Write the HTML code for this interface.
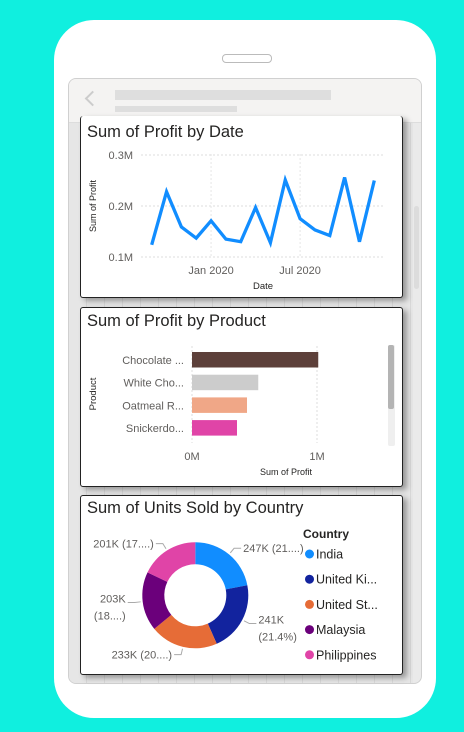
<!DOCTYPE html>
<html><head><meta charset="utf-8"><style>
body{margin:0;width:464px;height:732px;background:#10EFDF;position:relative;overflow:hidden;font-family:"Liberation Sans",sans-serif}
.abs{position:absolute}
.card{position:absolute;left:80px;width:321px;background:#fff;border:1px solid #222;border-radius:3px;box-shadow:4px 3px 6px rgba(0,0,0,.35)}
.title{position:absolute;left:6px;font-size:16.5px;color:#252423}
</style></head><body>
<div class="abs" style="left:54px;top:20px;width:382px;height:698px;background:#fff;border-radius:40px"></div>
<div class="abs" style="left:222px;top:54px;width:48px;height:7px;border:1px solid #bbb;border-radius:4px"></div>
<div class="abs" style="left:68px;top:78px;width:352px;height:604px;border:1px solid #d0d0d0;border-radius:8px;background:#eaeaea;overflow:hidden">
 <div class="abs" style="left:0;top:44px;width:344px;height:560px;background:repeating-linear-gradient(90deg,#e6e6e6 0,#e6e6e6 17px,#d8d8d8 17px,#d8d8d8 18px)"></div>
 <div class="abs" style="left:0;top:0;width:352px;height:43px;background:#f4f3f2;border-bottom:1px solid #ddd">
  <div class="abs" style="left:18px;top:14px;width:9px;height:9px;border-left:2px solid #ccc;border-bottom:2px solid #ccc;transform:rotate(45deg)"></div>
  <div class="abs" style="left:46px;top:11px;width:216px;height:10px;background:#dedede"></div>
  <div class="abs" style="left:46px;top:27px;width:122px;height:6px;background:#dedede"></div>
 </div>
 <div class="abs" style="left:345px;top:127px;width:5px;height:83px;background:#dcdcdc;border-radius:3px"></div>
</div>

<div class="card" style="top:116px;height:181px;border-top:none">
 <div class="title" style="top:7px">Sum of Profit by Date</div>
 <svg id="lc" width="321" height="181" style="position:absolute;left:0;top:0"></svg>
</div>
<div class="card" style="top:307px;height:178px">
 <div class="title" style="top:4px">Sum of Profit by Product</div>
 <svg id="bc" width="321" height="178" style="position:absolute;left:0;top:0"></svg>
</div>
<div class="card" style="top:495px;height:178px">
 <div class="title" style="top:3px">Sum of Units Sold by Country</div>
 <svg id="dc" width="321" height="178" style="position:absolute;left:0;top:0"></svg>
</div>

<script>
const lineValues=[0.124,0.228,0.159,0.137,0.171,0.135,0.130,0.197,0.128,0.251,0.175,0.153,0.142,0.256,0.130,0.250];
const lineYTicks=[0.1,0.2,0.3];
const lineYTickLabels=["0.1M","0.2M","0.3M"];
const lineXTickIdx=[4,10];
const lineXTickLabels=["Jan 2020","Jul 2020"];

const barCategories=["Chocolate ...","White Cho...","Oatmeal R...","Snickerdo..."];
const barValues=[1.01,0.53,0.44,0.36];
const barColors=["#5D403A","#CCCCCC","#F0A787","#E044A7"];
const barXTicks=[0,1];
const barXTickLabels=["0M","1M"];

const donutCountries=["India","United Ki...","United St...","Malaysia","Philippines"];
const donutValues=[247,241,233,203,201];
const donutLabels=["247K (21....)","241K|(21.4%)","233K (20....)","203K|(18....)","201K (17....)"];
const donutColors=["#118DFF","#12239E","#E66C37","#6B007B","#E044A7"];

const NS="http://www.w3.org/2000/svg";
function mk(p,t,a){const e=document.createElementNS(NS,t);for(const k in a)e.setAttribute(k,a[k]);p.appendChild(e);return e;}
function tx(p,x,y,s,a){const e=mk(p,'text',Object.assign({x:x,y:y,'font-family':'Liberation Sans, sans-serif','font-size':11,fill:'#605E5C'},a||{}));e.textContent=s;return e;}

(function(){
 const s=document.getElementById('lc');
 const x=i=>70.7+i*(293.3-70.7)/(lineValues.length-1);
 const y=v=>141-(v-0.1)*510;
 lineYTicks.forEach((t,i)=>{
  const g=mk(s,'line',{x1:60,x2:302,y1:y(t),y2:y(t),stroke:'#ddd','stroke-dasharray':'2,2'});
  
  const l=tx(s,52,y(t)+4,lineYTickLabels[i],{'text-anchor':'end'});
  
 });
 lineXTickIdx.forEach((t,i)=>{
  const g=mk(s,'line',{x1:x(t),x2:x(t),y1:38,y2:141,stroke:'#e6e6e6','stroke-dasharray':'2,2'});
  
  const l=tx(s,x(t),158,lineXTickLabels[i],{'text-anchor':'middle'});
  
 });
 const p=mk(s,'polyline',{points:lineValues.map((v,i)=>x(i)+','+y(v)).join(' '),fill:'none',stroke:'#118DFF','stroke-width':3.3,'stroke-linejoin':'miter'});
 
 const xt=tx(s,182,173,'Date',{'text-anchor':'middle','font-size':9.5,fill:'#252423'});
 
 const yt=tx(s,0,0,'Sum of Profit',{'text-anchor':'middle','font-size':9,fill:'#252423',transform:'translate(15,90) rotate(-90)'});
 
})();

(function(){
 const s=document.getElementById('bc');
 const x=v=>111+v*125;
 barXTicks.forEach((t,i)=>{
  const g=mk(s,'line',{x1:x(t),x2:x(t),y1:38,y2:135,stroke:'#ddd','stroke-dasharray':'2,2'});
  
  const l=tx(s,x(t),152,barXTickLabels[i],{'text-anchor':'middle'});
  
 });
 barCategories.forEach((c,i)=>{
  const yy=44+i*22.7;
  const r=mk(s,'rect',{x:x(0),y:yy,width:x(barValues[i])-x(0),height:15.5,fill:barColors[i]});
  
  const l=tx(s,103,yy+12,c,{'text-anchor':'end'});
  
 });
 const tr=mk(s,'rect',{x:307,y:37,width:7,height:101,fill:'#efefef',rx:2});
 
 const th=mk(s,'rect',{x:307,y:37,width:6,height:64,fill:'#b4b4b4',rx:2});
 
 const xt=tx(s,205,167,'Sum of Profit',{'text-anchor':'middle','font-size':9,fill:'#252423'});
 
 const yt=tx(s,0,0,'Product',{'text-anchor':'middle','font-size':9.5,fill:'#252423',transform:'translate(15,86) rotate(-90)'});
 
})();

(function(){
 const s=document.getElementById('dc');
 const cx=114.3,cy=99.3,R=53,r=31;
 const tot=donutValues.reduce((a,b)=>a+b,0);
 let a0=0;
 const pt=(a,rad)=>[cx+rad*Math.sin(a),cy-rad*Math.cos(a)];
 donutValues.forEach((v,i)=>{
  const a1=a0+v/tot*2*Math.PI;const lg=a1-a0>Math.PI?1:0;
  const [x0,y0]=pt(a0,R),[x1,y1]=pt(a1,R),[x2,y2]=pt(a1,r),[x3,y3]=pt(a0,r);
  const p=mk(s,'path',{d:`M${x0},${y0}A${R},${R} 0 ${lg} 1 ${x1},${y1}L${x2},${y2}A${r},${r} 0 ${lg} 0 ${x3},${y3}Z`,fill:donutColors[i]});
  
  const am=(a0+a1)/2;const [ex,ey]=pt(am,R+2);const right=Math.sin(am)>=0;
  const [lx,ly]=pt(am,R+8);const hx=lx+(right?7:-7);
  const ln=mk(s,'polyline',{points:`${ex},${ey} ${lx},${ly} ${hx},${ly}`,fill:'none',stroke:'#aaa','stroke-width':1});
  
  const parts=donutLabels[i].split('|');
  parts.forEach((t,k)=>{
   const off=parts.length>1?(k===0?0:17):4;
   const l=tx(s,hx+(right?2:-2),ly+off,t,{'text-anchor':right?'start':'end','font-size':11});
   
  });
  a0=a1;
 });
 const lt=tx(s,222,42,'Country',{'font-weight':'bold','font-size':12,fill:'#252423'});
 
 donutCountries.forEach((c,i)=>{
  const yy=58+i*25.2;
  const d=mk(s,'circle',{cx:228.5,cy:yy,r:4.5,fill:donutColors[i]});
  
  const l=tx(s,235,yy+4.5,c,{'font-size':12.5,fill:'#252423'});
  
 });
})();
</script>
</body></html>
